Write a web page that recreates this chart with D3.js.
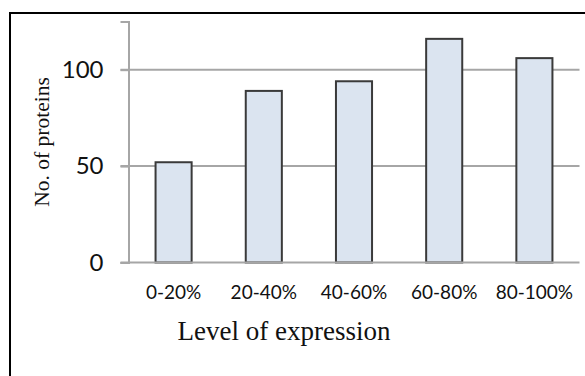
<!DOCTYPE html>
<html>
<head>
<meta charset="utf-8">
<script src="https://cdn.jsdelivr.net/npm/d3@7"></script>
<style>
  html, body { margin: 0; padding: 0; background: #fff; }
  svg { display: block; }
</style>
</head>
<body>
<svg id="chart" width="585" height="376"></svg>
<script>
const categories = ["0-20%", "20-40%", "40-60%", "60-80%", "80-100%"];
const values = [52, 89, 94, 116, 106];
const yTicks = [0, 50, 100];
const yMax = 125;
const xTitle = "Level of expression";
const yTitle = "No. of proteins";

const svg = d3.select("#chart");
const W = 585, H = 376;
const m = { left: 128.5, right: 5.5, top: 21.5, bottom: 113.5 };
const x0 = m.left, x1 = W - m.right, y0 = H - m.bottom, y1 = m.top;

// outer frame (clipped at right/bottom)
svg.append("rect")
  .attr("x", 10).attr("y", 13).attr("width", 620).attr("height", 420)
  .attr("fill", "none").attr("stroke", "#000").attr("stroke-width", 2);

const x = d3.scaleBand().domain(categories).range([x0, x1])
  .paddingInner(0.6).paddingOuter(0.3);
const y = d3.scaleLinear().domain([0, yMax]).range([y0, y1]);

// gridlines
svg.append("g").selectAll("line").data(yTicks.filter(d => d > 0)).join("line")
  .attr("x1", x0 - 8).attr("x2", x1)
  .attr("y1", d => y(d)).attr("y2", d => y(d))
  .attr("stroke", "#a6a6a6").attr("stroke-width", 2);

// y axis
const yAxis = svg.append("g").attr("transform", `translate(${x0},0)`)
  .call(d3.axisLeft(y).tickValues(yTicks).tickSize(8).tickPadding(17).tickFormat(d3.format("d")));
yAxis.select(".domain").attr("stroke", "#a6a6a6").attr("stroke-width", 2);
yAxis.selectAll(".tick line").attr("stroke", "#a6a6a6").attr("stroke-width", 2);
yAxis.selectAll(".tick text")
  .attr("font-family", "Lato, 'Open Sans', sans-serif")
  .attr("font-size", 24).attr("fill", "#111");

// bars
svg.append("g").selectAll("rect").data(categories).join("rect")
  .attr("x", d => x(d)).attr("width", x.bandwidth())
  .attr("y", (d, i) => y(values[i])).attr("height", (d, i) => y0 - y(values[i]))
  .attr("fill", "#dbe4f0").attr("stroke", "#3a3a3a").attr("stroke-width", 2);

// x axis
const xAxis = svg.append("g").attr("transform", `translate(0,${y0})`)
  .call(d3.axisBottom(x).tickSize(0).tickPadding(23));
xAxis.select(".domain").attr("stroke", "#a6a6a6").attr("stroke-width", 2)
  .attr("d", `M${x0 - 8},0H${x1}`);
xAxis.selectAll(".tick text")
  .attr("font-family", "Lato, 'Open Sans', sans-serif")
  .attr("font-size", 19).attr("fill", "#111");

// axis titles
svg.append("text")
  .attr("x", 284).attr("y", 340)
  .attr("text-anchor", "middle")
  .attr("font-family", "'Liberation Serif', 'DejaVu Serif', serif")
  .attr("font-size", 27).attr("fill", "#111")
  .text(xTitle);

svg.append("text")
  .attr("transform", `translate(49,${(y0 + y1) / 2}) rotate(-90)`)
  .attr("text-anchor", "middle")
  .attr("font-family", "'Liberation Serif', 'DejaVu Serif', serif")
  .attr("font-size", 21.5).attr("fill", "#111")
  .text(yTitle);
</script>
</body>
</html>
